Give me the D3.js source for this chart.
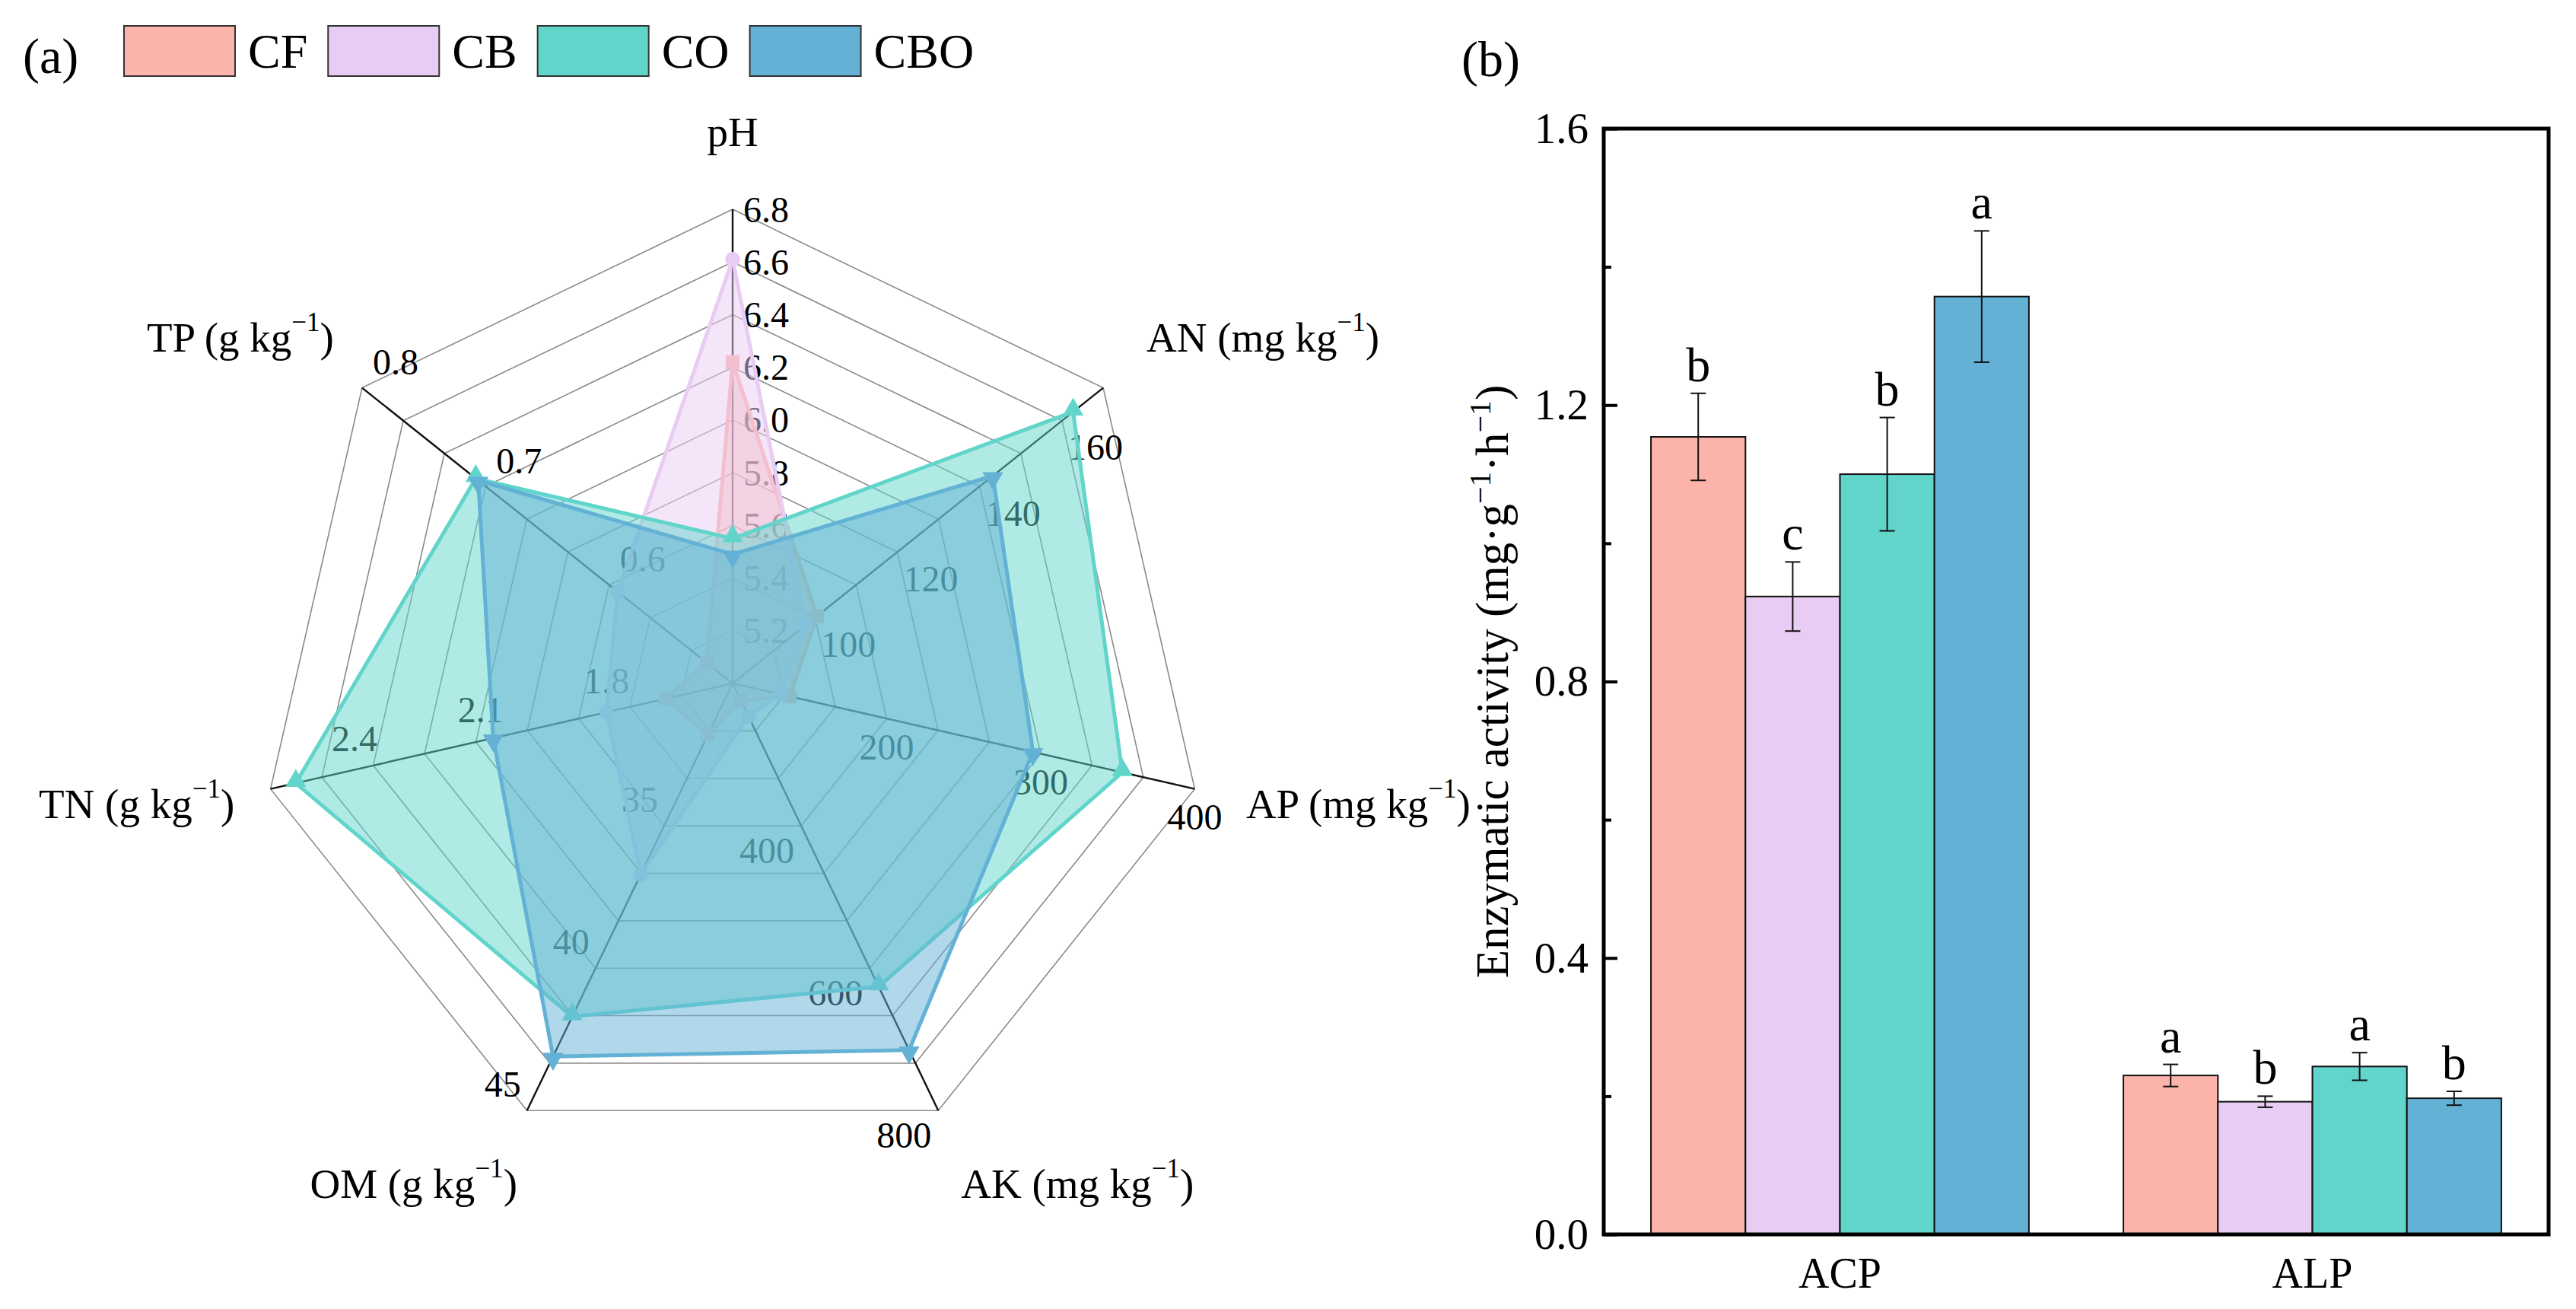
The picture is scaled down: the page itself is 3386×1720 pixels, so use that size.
<!DOCTYPE html>
<html><head><meta charset="utf-8">
<script src="https://cdn.jsdelivr.net/npm/d3@7/dist/d3.min.js"></script>
<style>
body{margin:0;background:#fff}
text{font-family:"Liberation Serif","Times New Roman",serif;fill:#000}
</style>
</head><body>
<svg id="chart" width="3386" height="1720" xmlns="http://www.w3.org/2000/svg"></svg>
<script>
// ---------------- DATA ----------------
const series = ["CF", "CB", "CO", "CBO"];
const seriesColors = ["#FCB3AA", "#E9CCF3", "#62D5CB", "#63B2D5"];

// radar (panel a)
const radarAxes = ["pH", "AN", "AP", "AK", "OM", "TN", "TP"];
const radarUnits = ["", "mg kg", "mg kg", "mg kg", "g kg", "g kg", "g kg"];
const radarMin = [5.0, 80, 100, 200, 30, 1.5, 0.5];
const radarMax = [6.8, 170, 400, 800, 45, 2.6, 0.8];
const radarTickLabels = [
  ["5.2", "5.4", "5.6", "5.8", "6.0", "6.2", "6.4", "6.6", "6.8"],
  ["100", "120", "140", "160"],
  ["200", "300", "400"],
  ["400", "600", "800"],
  ["35", "40", "45"],
  ["1.8", "2.1", "2.4"],
  ["0.6", "0.7", "0.8"]
];
const radarCF  = [6.22, 100.5, 137, 224, 31.8, 1.66, 0.521];
const radarCB  = [6.61,  97.8, 131, 246, 36.7, 1.80, 0.593];
const radarCO  = [5.55, 162.7, 353, 626, 41.7, 2.54, 0.708];
const radarCBO = [5.49, 143.2, 295, 715, 43.1, 2.07, 0.706];

// bars (panel b)
const enzymes = ["ACP", "ALP"];
const barCF  = [1.154, 0.230];
const barCB  = [0.923, 0.192];
const barCO  = [1.100, 0.243];
const barCBO = [1.357, 0.197];
const errCF  = [0.063, 0.016];
const errCB  = [0.050, 0.008];
const errCO  = [0.082, 0.020];
const errCBO = [0.095, 0.010];
const letCF  = ["b", "a"];
const letCB  = ["c", "b"];
const letCO  = ["b", "a"];
const letCBO = ["a", "b"];
const barTicks = [0, 0.4, 0.8, 1.2, 1.6];
const barMinorTicks = [0.2, 0.6, 1.0, 1.4];

// ---------------- LAYOUT ----------------
const svg = d3.select("#chart");
const radarVals = [radarCF, radarCB, radarCO, radarCBO];
const barVals = [barCF, barCB, barCO, barCBO];
const errVals = [errCF, errCB, errCO, errCBO];
const letVals = [letCF, letCB, letCO, letCBO];

const cx = 963, cy = 898, R = 623, nRings = 9;
const nAx = radarAxes.length;
const ang = i => i * 2 * Math.PI / nAx;
const rScales = radarAxes.map((a, i) => d3.scaleLinear().domain([radarMin[i], radarMax[i]]).range([0, R]));
const pt = (i, r) => [cx + r * Math.sin(ang(i)), cy - r * Math.cos(ang(i))];

const tickOff = [[14, 0, "start"], [44, 35, "middle"], [0, 37, "middle"], [-45, 32, "middle"],
                 [-32, -35, "middle"], [0, -41, "middle"], [44, -34, "middle"]];
const titleOff = [[0, -102], [210, -67], [215, 19], [183, 96], [-149, 96], [-176, 19], [-160, -67]];

const gR = svg.append("g");
for (let k = 1; k <= nRings; k++) {
  const r = R * k / nRings;
  gR.append("path")
    .attr("d", d3.line()(d3.range(nAx + 1).map(i => pt(i % nAx, r))))
    .attr("fill", "none").attr("stroke", "#8a8a8a").attr("stroke-width", 1.6);
}
radarAxes.forEach((a, i) => {
  const p = pt(i, R);
  gR.append("line").attr("x1", cx).attr("y1", cy).attr("x2", p[0]).attr("y2", p[1])
    .attr("stroke", "#111").attr("stroke-width", 2.4);
});
radarAxes.forEach((a, i) => {
  radarTickLabels[i].forEach(t => {
    const p = pt(i, rScales[i](+t));
    gR.append("text").attr("x", p[0] + tickOff[i][0]).attr("y", p[1] + tickOff[i][1])
      .attr("text-anchor", tickOff[i][2]).attr("dominant-baseline", "central")
      .style("font-size", "48px").text(t);
  });
});
const symbols = [d3.symbolSquare, d3.symbolCircle, d3.symbolTriangle, d3.symbolTriangle];
const symSize = [330, 300, 320, 320];
const symRot = [0, 0, 0, 180];
series.forEach((s, si) => {
  const pts = radarVals[si].map((v, i) => pt(i, rScales[i](v)));
  const g = gR.append("g");
  g.append("path").attr("d", d3.line().curve(d3.curveLinearClosed)(pts))
    .attr("fill", seriesColors[si]).attr("fill-opacity", 0.5)
    .attr("stroke", seriesColors[si]).attr("stroke-width", 5).attr("stroke-linejoin", "round");
  pts.forEach(p => {
    g.append("path").attr("d", d3.symbol().type(symbols[si]).size(symSize[si])())
      .attr("transform", `translate(${p[0]},${p[1] + (symRot[si] ? 3 : -3) * (si >= 2 ? 1 : 0)}) rotate(${symRot[si]})`)
      .attr("fill", seriesColors[si]);
  });
});
radarAxes.forEach((a, i) => {
  const p = pt(i, R);
  const t = gR.append("text").attr("x", p[0] + titleOff[i][0]).attr("y", p[1] + titleOff[i][1])
    .attr("text-anchor", "middle").attr("dominant-baseline", "central").style("font-size", "55px");
  if (radarUnits[i] === "") { t.text(a); }
  else {
    t.append("tspan").text(a + " (" + radarUnits[i]);
    t.append("tspan").attr("dy", -20).style("font-size", "35px").text("\u22121");
    t.append("tspan").attr("dy", 20).text(")");
  }
});

svg.append("text").attr("x", 30).attr("y", 96).style("font-size", "66px").text("(a)");
let lx = 163;
series.forEach((s, si) => {
  svg.append("rect").attr("x", lx).attr("y", 34).attr("width", 146).attr("height", 66)
    .attr("fill", seriesColors[si]).attr("stroke", "#333").attr("stroke-width", 2);
  const t = svg.append("text").attr("x", lx + 146 + 17).attr("y", 89).style("font-size", "64px").text(s);
  lx = lx + 146 + 17 + t.node().getComputedTextLength() + 27;
});

// ---------------- BAR CHART ----------------
const bL = 2108, bR = 3350, bT = 169, bB = 1622;
const x0 = d3.scaleBand().domain(enzymes).range([bL, bR]).paddingInner(0).paddingOuter(0);
const gw = x0.bandwidth() * 0.8;
const x1 = d3.scaleBand().domain(series).range([0, gw]);
const y = d3.scaleLinear().domain([0, 1.6]).range([bB, bT]);
const gB = svg.append("g");

enzymes.forEach((e, ei) => {
  series.forEach((s, si) => {
    const v = barVals[si][ei], er = errVals[si][ei];
    const xs = x0(e) + x0.bandwidth() * 0.1 + x1(s);
    const xc = xs + x1.bandwidth() / 2;
    gB.append("rect").attr("x", xs).attr("y", y(v)).attr("width", x1.bandwidth()).attr("height", y(0) - y(v))
      .attr("fill", seriesColors[si]).attr("stroke", "#111").attr("stroke-width", 2);
    gB.append("line").attr("x1", xc).attr("x2", xc).attr("y1", y(v - er)).attr("y2", y(v + er))
      .attr("stroke", "#111").attr("stroke-width", 2);
    [v - er, v + er].forEach(w => gB.append("line").attr("x1", xc - 10).attr("x2", xc + 10)
      .attr("y1", y(w)).attr("y2", y(w)).attr("stroke", "#111").attr("stroke-width", 2));
    gB.append("text").attr("x", xc).attr("y", y(v + er) - 16).attr("text-anchor", "middle")
      .style("font-size", "64px").text(letVals[si][ei]);
  });
});

const yAxis = gB.append("g").attr("transform", `translate(${bL},0)`)
  .call(d3.axisLeft(y).tickValues(barTicks).tickFormat(d3.format(".1f")).tickSize(-18).tickPadding(20));
yAxis.select(".domain").remove();
yAxis.selectAll("line").attr("stroke", "#000").attr("stroke-width", 4);
yAxis.selectAll("text").style("font-size", "57px").attr("font-family", null);
const yMinor = gB.append("g").attr("transform", `translate(${bL},0)`)
  .call(d3.axisLeft(y).tickValues(barMinorTicks).tickFormat("").tickSize(-10));
yMinor.select(".domain").remove();
yMinor.selectAll("line").attr("stroke", "#000").attr("stroke-width", 4);

const xAxis = gB.append("g").attr("transform", `translate(0,${bB})`)
  .call(d3.axisBottom(x0).tickSize(0).tickPadding(30));
xAxis.select(".domain").remove();
xAxis.selectAll("text").style("font-size", "56px").attr("font-family", null);

gB.append("rect").attr("x", bL).attr("y", bT).attr("width", bR - bL).attr("height", bB - bT)
  .attr("fill", "none").attr("stroke", "#000").attr("stroke-width", 5);

const yt = gB.append("text").attr("transform", `translate(1982,${(bT + bB) / 2}) rotate(-90)`)
  .attr("text-anchor", "middle").style("font-size", "61px");
yt.append("tspan").text("Enzymatic activity (mg\u00B7g");
yt.append("tspan").attr("dy", -23).style("font-size", "40px").text("\u22121");
yt.append("tspan").attr("dy", 23).text("\u00B7h");
yt.append("tspan").attr("dy", -23).style("font-size", "40px").text("\u22121");
yt.append("tspan").attr("dy", 23).text(")");

svg.append("text").attr("x", 1921).attr("y", 100).style("font-size", "66px").text("(b)");
</script>
</body></html>
